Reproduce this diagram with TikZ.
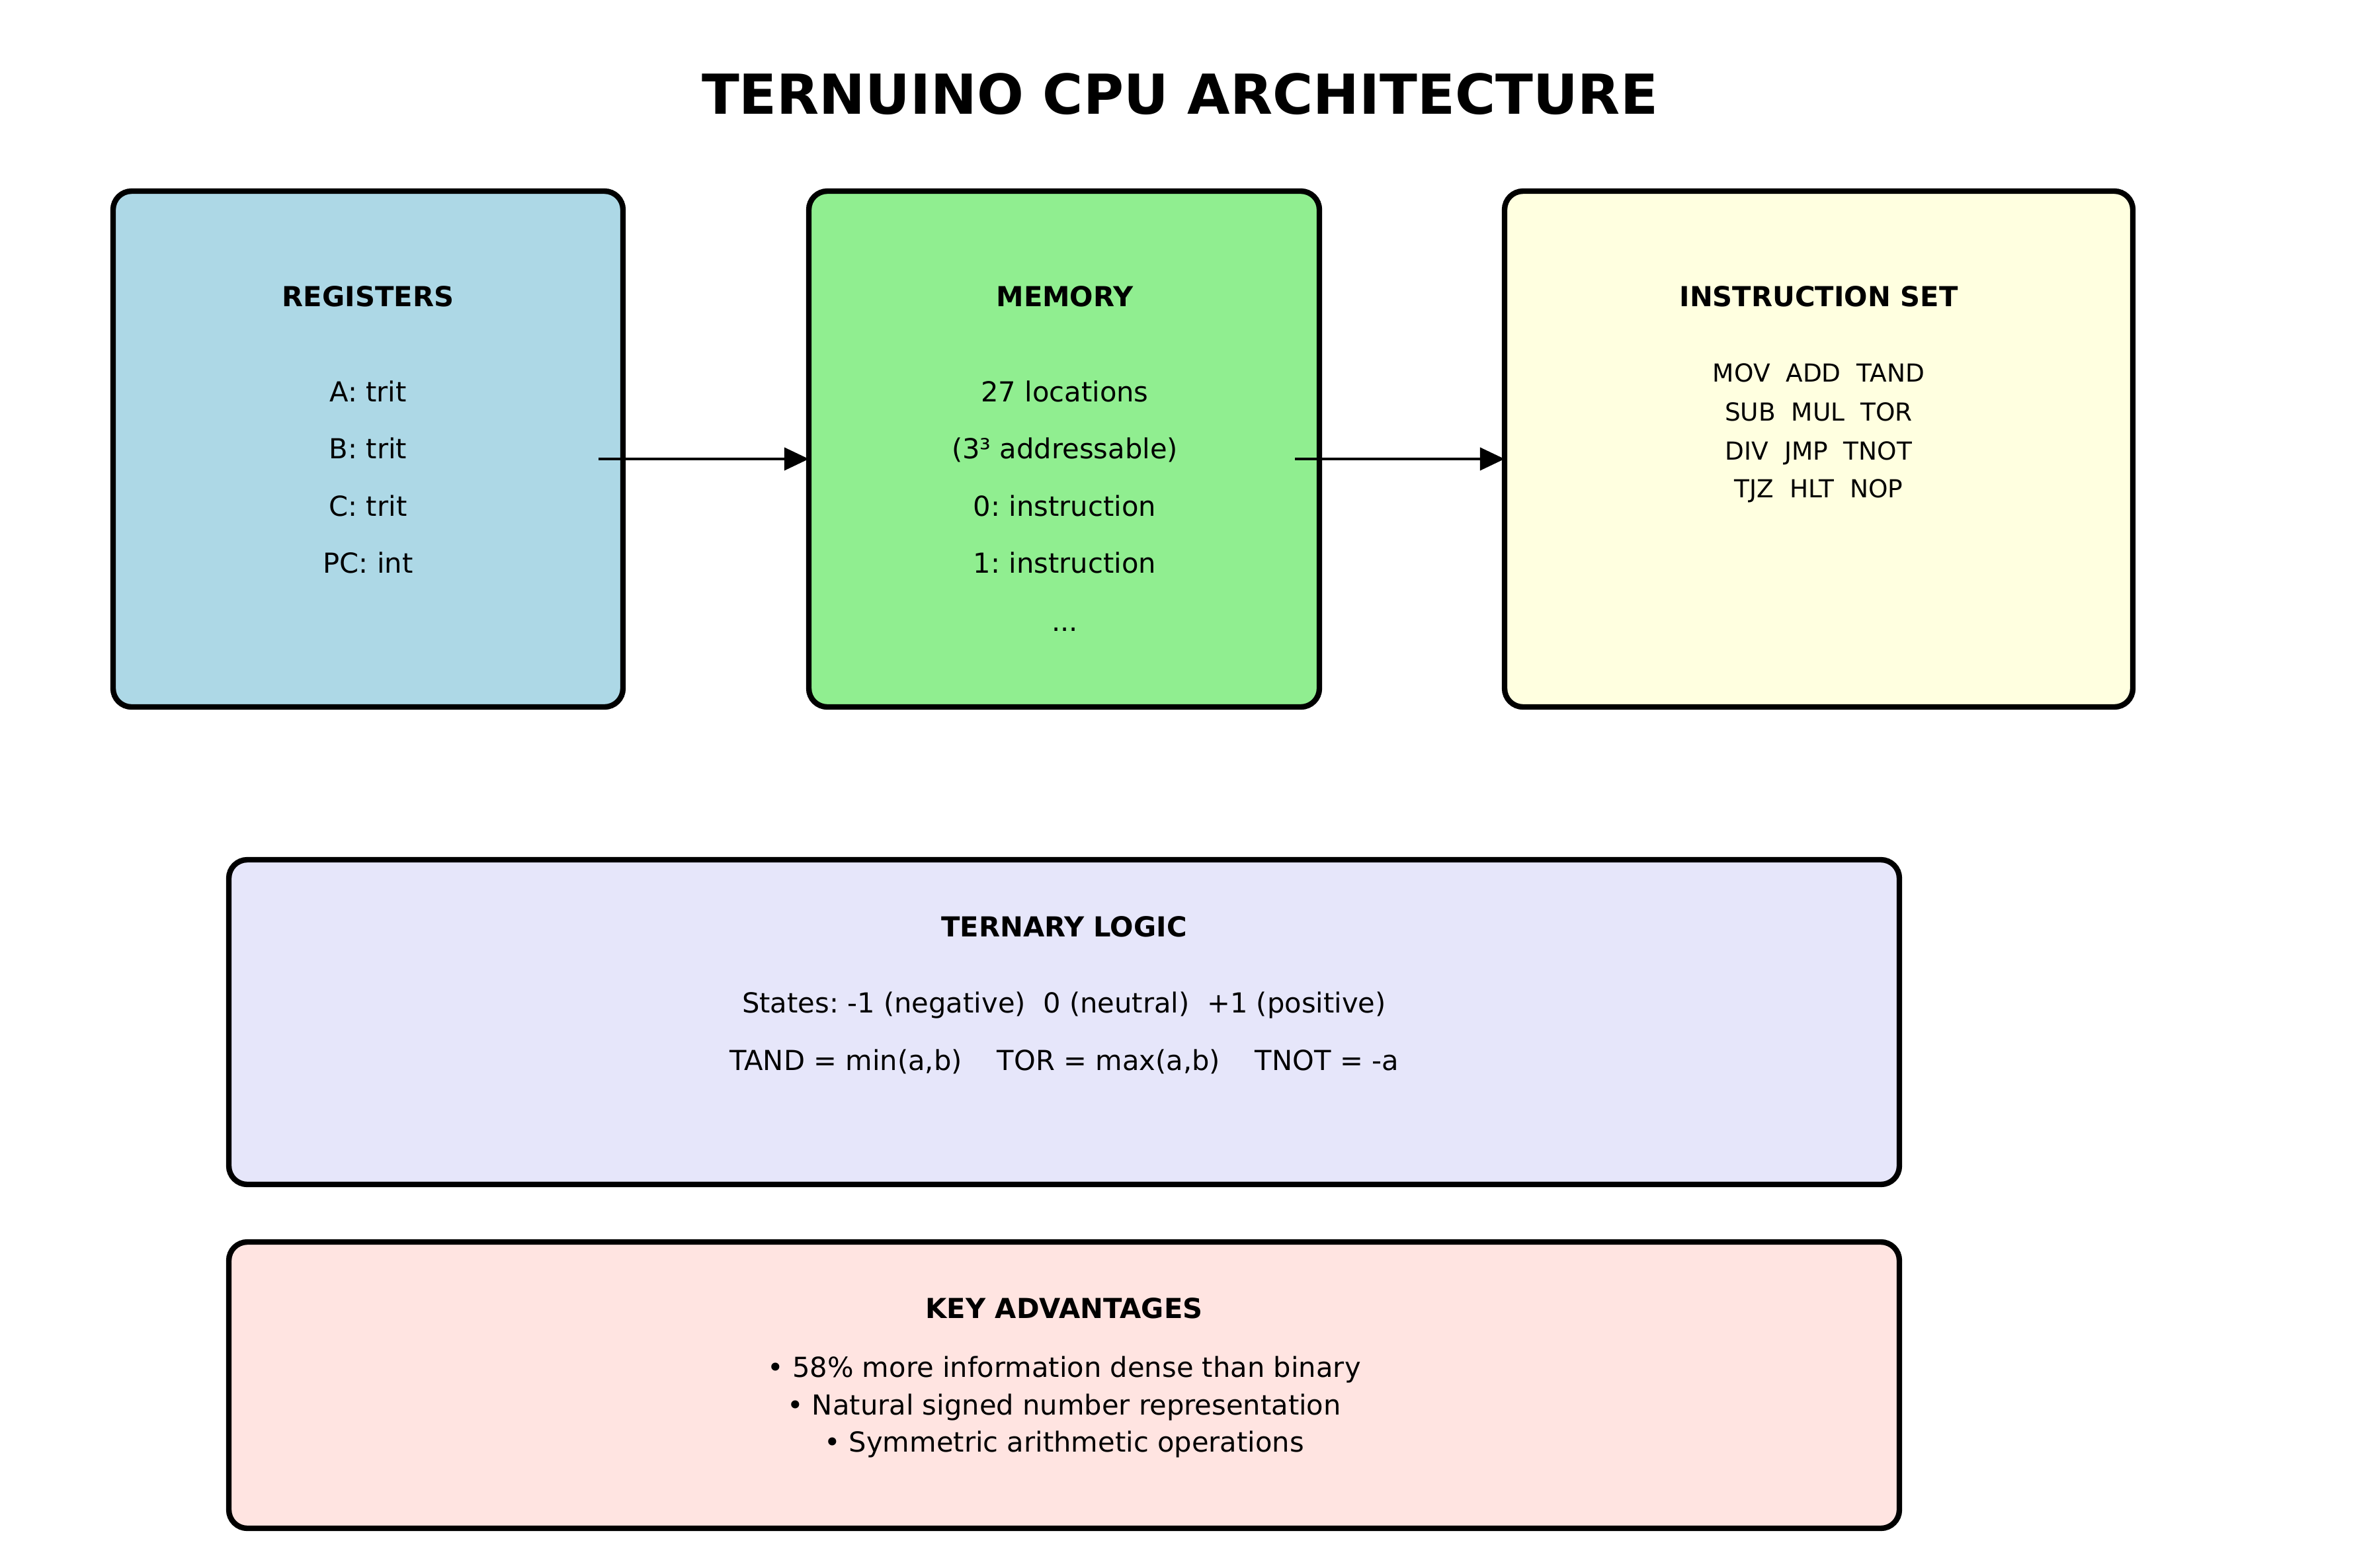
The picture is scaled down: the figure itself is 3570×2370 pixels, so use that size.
\documentclass[tikz,border=0pt]{standalone}
\usepackage{fontspec}
\setmainfont{DejaVu Sans}
\usetikzlibrary{arrows.meta}
\frenchspacing
\definecolor{regblue}{HTML}{ADD8E6}
\definecolor{memgreen}{HTML}{90EE90}
\definecolor{insyellow}{HTML}{FFFFE0}
\definecolor{ternlav}{HTML}{E6E6FA}
\definecolor{keyrose}{HTML}{FFE4E1}
\tikzset{
  box/.style={draw=black, line width=2pt, rounded corners=6.7pt, inner sep=0pt, outer sep=0pt},
  txt/.style={anchor=base, inner sep=0pt, font=\fontsize{10}{12}\selectfont},
  hdr/.style={anchor=base, inner sep=0pt, font=\fontsize{10}{12}\selectfont\bfseries},
  smalltxt/.style={anchor=base, inner sep=0pt, font=\fontsize{9}{11}\selectfont},
  arr/.style={line width=1pt, -{Triangle[length=8.9pt,width=8.2pt]}}
}
\begin{document}
\begin{tikzpicture}[x=0.24pt,y=-0.24pt]
\fill[white] (0,0) rectangle (3570,2370);
\useasboundingbox (0,0) rectangle (3570,2370);

\node[anchor=base, inner sep=0pt, font=\fontsize{20}{24}\selectfont\bfseries] (title) at (1784,172) {TERNUINO CPU ARCHITECTURE};

% boxes
\node[box, fill=regblue, minimum width=185.04pt, minimum height=187.2pt] (reg) at (556.5,679) {};
\node[box, fill=memgreen, minimum width=185.28pt, minimum height=187.2pt] (mem) at (1609,679) {};
\node[box, fill=insyellow, minimum width=228pt, minimum height=187.2pt] (ins) at (2750,679) {};
\node[box, fill=ternlav, minimum width=606.24pt, minimum height=117.84pt] (tern) at (1609,1545.5) {};
\node[box, fill=keyrose, minimum width=606.24pt, minimum height=103.92pt] (key) at (1609,2094.5) {};

% registers
\node[hdr] (regt) at (556.5,463) {REGISTERS};
\node[txt] (rega) at (556.5,607.5) {A: trit};
\node[txt] (regb) at (556.5,693) {B: trit};
\node[txt] (regc) at (556.5,780) {C: trit};
\node[txt] (regpc) at (556.5,866.5) {PC: int};

% memory
\node[hdr] (memt) at (1610,463) {MEMORY};
\node[txt] (mem1) at (1610,607.5) {27 locations};
\node[txt] (mem2) at (1610,693) {(3³ addressable)};
\node[txt] (mem3) at (1610,780) {0: instruction};
\node[txt] (mem4) at (1610,866.5) {1: instruction};
\node[txt] (mem5) at (1610,954) {...};

% instruction set
\node[hdr] (inst) at (2750,463) {INSTRUCTION SET};
\node[smalltxt] (ins1) at (2750,577) {MOV\ \ ADD\ \ TAND};
\node[smalltxt] (ins2) at (2750,636) {SUB\ \ MUL\ \ TOR};
\node[smalltxt] (ins3) at (2750,695) {DIV\ \ JMP\ \ TNOT};
\node[smalltxt] (ins4) at (2750,752) {TJZ\ \ HLT\ \ NOP};

% ternary logic
\node[hdr] (ternt) at (1609,1416) {TERNARY LOGIC};
\node[txt] (tern1) at (1609,1531) {States: -1 (negative)\ \ 0 (neutral)\ \ +1 (positive)};
\node[txt] (tern2) at (1609,1618) {TAND = min(a,b)\ \ \ \ TOR = max(a,b)\ \ \ \ TNOT = -a};

% key advantages
\node[hdr] (keyt) at (1609,1993) {KEY ADVANTAGES};
\node[txt] (key1) at (1609,2082) {• 58\% more information dense than binary};
\node[txt] (key2) at (1609,2139) {• Natural signed number representation};
\node[txt] (key3) at (1609,2195) {• Symmetric arithmetic operations};

% arrows
\coordinate (a1s) at (905,694);
\coordinate (a2s) at (1958,694);
\draw[arr] (a1s) -- (a1s -| mem.west);
\draw[arr] (a2s) -- (a2s -| ins.west);
\end{tikzpicture}
\end{document}
